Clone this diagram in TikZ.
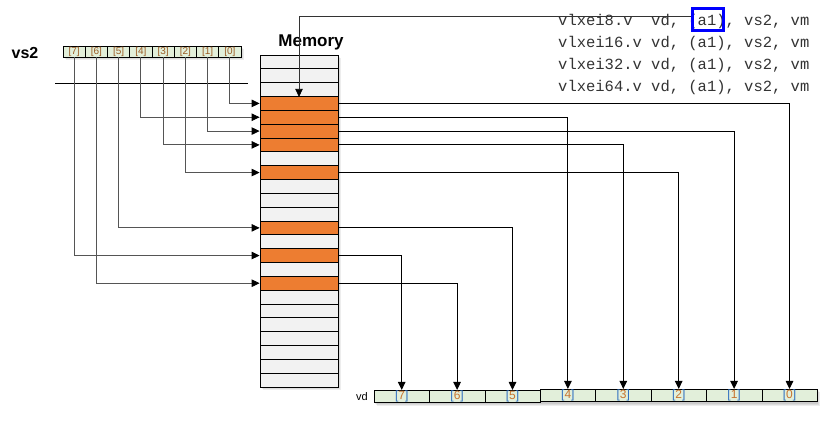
\documentclass[tikz,border=0pt]{standalone}
\usepackage{fontspec}
\setmainfont{Liberation Sans}
\setsansfont{Liberation Sans}
\setmonofont{Liberation Mono}
\usetikzlibrary{arrows.meta}
\definecolor{memgray}{HTML}{F2F2F2}
\definecolor{memor}{HTML}{ED7D31}
\definecolor{regfill}{HTML}{E2EFDA}
\definecolor{lblor}{HTML}{C8732E}
\definecolor{lblbr}{HTML}{9A5A24}
\definecolor{lblbl}{HTML}{2F6FC0}
\definecolor{wiregray}{HTML}{555555}
\begin{document}
\begin{tikzpicture}[x=1pt,y=-1pt,
  cellg/.style={draw=black, line width=0.8pt, fill=memgray, minimum width=78pt, minimum height=13.83pt, inner sep=0pt},
  cello/.style={cellg, fill=memor},
  vreg/.style={draw=black, line width=0.6pt, fill=regfill, minimum width=22.25pt, minimum height=11pt, inner sep=0pt, font=\fontsize{10}{10}\selectfont, text=lblbr},
  dreg/.style={draw=black, line width=0.6pt, fill=regfill, minimum width=55.4pt, minimum height=12.5pt, inner sep=0pt, font=\fontsize{12}{12}\selectfont},
  tipb/.style={-{Triangle[length=8pt,width=7.5pt,color=black]}},
  inwire/.style={draw=wiregray, line width=0.8pt, tipb},
  outwire/.style={draw=black, line width=1pt, tipb},
  codetxt/.style={anchor=base west, inner sep=0pt, font=\ttfamily\fontsize{15.5}{15.5}\selectfont, text=black!80},
  shad/.style={fill=black, opacity=0.07}
]
\useasboundingbox (0,0) rectangle (827,421);

% shadows
\foreach \o in {1,2,3} {
  \fill[shad] (260+\o,55+\o) rectangle (338+\o,387+\o);
  \fill[shad] (63+\o,46+\o) rectangle (241+\o,57+\o);
  \fill[shad] (374+\o,389+\o) rectangle (817+\o,403+\o);
}

% memory rows
\foreach \k/\s in {0/cellg,1/cellg,2/cellg,3/cello,4/cello,5/cello,6/cello,7/cellg,
                   8/cello,9/cellg,10/cellg,11/cellg,12/cello,13/cellg,14/cello,15/cellg,
                   16/cello,17/cellg,18/cellg,19/cellg,20/cellg,21/cellg,22/cellg,23/cellg}
  \node[\s] (m\k) at (299,{55+13.83*(\k+0.5)}) {};

% vs2 register
\foreach \i in {0,...,7}
  \node[vreg] (v\i) at ({63+22.25*(7-\i)+11.125},51.5) {[\i]};

% vd register
\foreach \i in {0,...,7} {
  \pgfmathsetmacro\yy{\i>4 ? 396.5 : 395.5}
  \node[dreg] (d\i) at ({374+55.4*(7-\i)+27.7},\yy) {\textcolor{lblbl}{[}\textcolor{lblor}{\i}\textcolor{lblbl}{]}};
}

% labels
\node[font=\fontsize{17}{17}\selectfont\bfseries, anchor=base, inner sep=0pt] (memlbl) at (311,46) {Memory};
\node[font=\fontsize{16}{16}\selectfont\bfseries, anchor=base, inner sep=0pt] (vslbl) at (25,58) {vs2};
\node[font=\fontsize{11}{11}\selectfont, anchor=base, inner sep=0pt] (vdlbl) at (362,400) {vd};

% separator line
\coordinate (sepa) at (55,83);
\coordinate (sepb) at (248,83);
\draw[line width=0.8pt] (sepa) -- (sepb);

% vs2 -> memory
\foreach \i/\r in {0/3,4/4,1/5,3/6,2/8,5/12,7/14,6/16}
  \draw[inwire] (v\i.south) |- (m\r.west);

% memory -> vd
\foreach \i/\r in {0/3,4/4,1/5,3/6,2/8,5/12,7/14,6/16}
  \draw[outwire] (m\r.east) -| (d\i.north);

% instruction text
\node[codetxt] (c1) at (558,25) {vlxei8.v\ \ vd, (a1), vs2, vm};
\node[codetxt] (c2) at (558,47.3) {vlxei16.v vd, (a1), vs2, vm};
\node[codetxt] (c3) at (558,69.3) {vlxei32.v vd, (a1), vs2, vm};
\node[codetxt] (c4) at (558,91) {vlxei64.v vd, (a1), vs2, vm};

% highlight box and base-address arrow
\node[draw=blue, line width=3pt, minimum width=31pt, minimum height=22pt, inner sep=0pt] (box) at (707.5,19) {};
\coordinate (tap) at ([yshift=3pt]box.west);
\draw[draw=black!80, line width=0.8pt, tipb] (tap) -| (m2.south);
\end{tikzpicture}
\end{document}
